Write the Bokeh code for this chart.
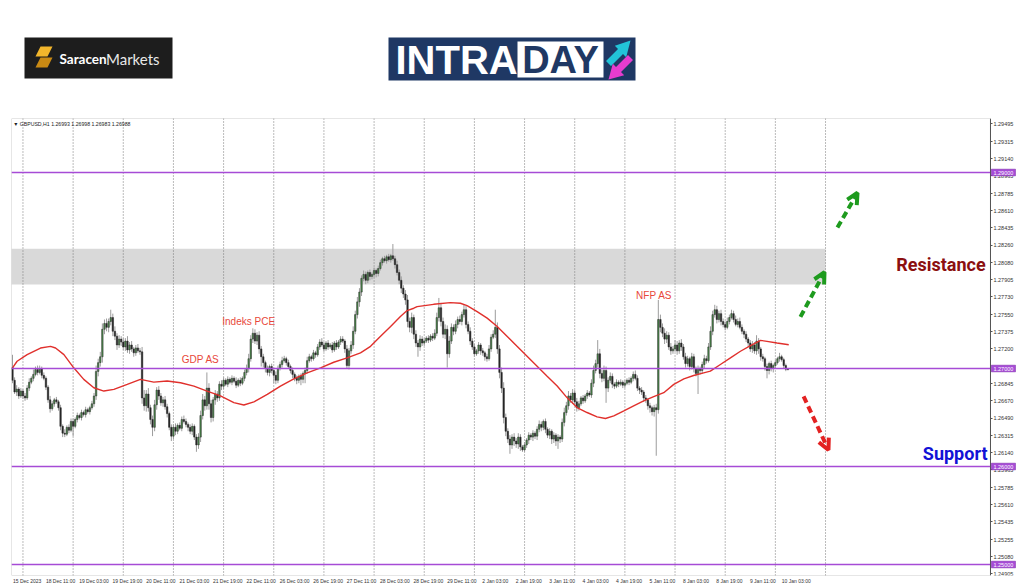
from bokeh.plotting import figure
from bokeh.models import Range1d, FixedTicker, Span, BoxAnnotation, Arrow, OpenHead, ColumnDataSource, PrintfTickFormatter
from bokeh.layouts import column
from bokeh.embed import file_html
from bokeh.resources import INLINE
from bokeh.core.properties import value

# ---------------- data ----------------
first_open = 1.2701
closes = [
    1.2688, 1.2676, 1.2679, 1.2672, 1.2677,
    1.2672, 1.2670, 1.2680, 1.2686, 1.2690, 1.2694, 1.2699, 1.2696, 1.2700, 1.2693, 1.2690, 1.2681, 1.2668, 1.2659, 1.2664, 1.2668, 1.2666, 1.2660, 1.2641, 1.2634, 1.2633, 1.2640, 1.2637, 1.2646,
    1.2641, 1.2648, 1.2652, 1.2650, 1.2655, 1.2653, 1.2658, 1.2656, 1.2660, 1.2664, 1.2672, 1.2697, 1.2706, 1.2712, 1.2740, 1.2746, 1.2742, 1.2748, 1.2752, 1.2738, 1.2733, 1.2724, 1.2730, 1.2727,
    1.2722, 1.2728, 1.2719, 1.2724, 1.2720, 1.2716, 1.2721, 1.2718, 1.2717, 1.2670, 1.2662, 1.2674, 1.2660, 1.2648, 1.2640, 1.2663, 1.2678, 1.2672, 1.2665, 1.2668, 1.2661, 1.2654, 1.2640, 1.2631,
    1.2640, 1.2636, 1.2642, 1.2639, 1.2648, 1.2646, 1.2643, 1.2640, 1.2636, 1.2641, 1.2630, 1.2622, 1.2630, 1.2652, 1.2668, 1.2662, 1.2680, 1.2664, 1.2650, 1.2668, 1.2674, 1.2670, 1.2684, 1.2682,
    1.2688, 1.2684, 1.2689, 1.2686, 1.2690, 1.2687, 1.2683, 1.2688, 1.2685, 1.2690, 1.2696, 1.2700, 1.2710, 1.2730, 1.2736, 1.2728, 1.2734, 1.2720, 1.2712, 1.2706, 1.2700, 1.2696, 1.2702, 1.2698,
    1.2693, 1.2688, 1.2700, 1.2704, 1.2708, 1.2710, 1.2706, 1.2702, 1.2698, 1.2694, 1.2690, 1.2688, 1.2692, 1.2689, 1.2695, 1.2698, 1.2708, 1.2712, 1.2710, 1.2716, 1.2714, 1.2722, 1.2727, 1.2724,
    1.2720, 1.2726, 1.2722, 1.2724, 1.2719, 1.2726, 1.2722, 1.2727, 1.2730, 1.2728, 1.2720, 1.2703, 1.2718, 1.2724, 1.2738, 1.2755, 1.2768, 1.2778, 1.2792, 1.2796, 1.2790, 1.2798, 1.2794, 1.2796,
    1.2800, 1.2797, 1.2802, 1.2808, 1.2812, 1.2810, 1.2814, 1.2811, 1.2815, 1.2812, 1.2806, 1.2798, 1.2790, 1.2782, 1.2776, 1.2770, 1.2748, 1.2742, 1.2752, 1.2735, 1.2726, 1.2722, 1.2730, 1.2726,
    1.2728, 1.2731, 1.2729, 1.2733, 1.2731, 1.2736, 1.2752, 1.2762, 1.2748, 1.2735, 1.2740, 1.2715, 1.2728, 1.2742, 1.2738, 1.2745, 1.2750, 1.2748, 1.2755, 1.2760, 1.2745, 1.2738, 1.2728, 1.2722,
    1.2715, 1.2718, 1.2724, 1.2718, 1.2716, 1.2712, 1.2710, 1.2720, 1.2732, 1.2735, 1.2742, 1.2720, 1.2696, 1.2680, 1.2650, 1.2636, 1.2628, 1.2622, 1.2630, 1.2626, 1.2623, 1.2630, 1.2620, 1.2617,
    1.2622, 1.2627, 1.2632, 1.2630, 1.2634, 1.2631, 1.2638, 1.2643, 1.2640, 1.2646, 1.2638, 1.2632, 1.2636, 1.2628, 1.2632, 1.2626, 1.2630, 1.2628, 1.2645, 1.2655, 1.2662, 1.2672, 1.2668, 1.2675,
    1.2666, 1.2660, 1.2664, 1.2670, 1.2667, 1.2672, 1.2675, 1.2673, 1.2685, 1.2698, 1.2705, 1.2715, 1.2695, 1.2690, 1.2698, 1.2680, 1.2688, 1.2692, 1.2684, 1.2682, 1.2686, 1.2684, 1.2686, 1.2683,
    1.2685, 1.2688, 1.2686, 1.2690, 1.2694, 1.2690, 1.2680, 1.2678, 1.2676, 1.2670, 1.2668, 1.2662, 1.2660, 1.2656, 1.2660, 1.2658, 1.2750, 1.2742, 1.2736, 1.2730, 1.2734, 1.2722, 1.2718, 1.2720,
    1.2724, 1.2718, 1.2726, 1.2722, 1.2712, 1.2705, 1.2710, 1.2702, 1.2712, 1.2700, 1.2695, 1.2700, 1.2698, 1.2704, 1.2710, 1.2708, 1.2722, 1.2738, 1.2755, 1.2760, 1.2750, 1.2756, 1.2748, 1.2745,
    1.2742, 1.2748, 1.2752, 1.2756, 1.2750, 1.2745, 1.2748, 1.2742, 1.2738, 1.2735, 1.2730, 1.2726, 1.2720, 1.2724, 1.2718, 1.2728, 1.2720, 1.2712, 1.2710, 1.2702, 1.2698, 1.2705, 1.2700, 1.2703,
    1.2706, 1.2710, 1.2712, 1.2709, 1.2703, 1.26993, 1.26988,
]
# upper / lower wick lengths in pips (0.0001)
up_wick = [
    13, 3, 4, 2, 3,
    2, 3, 3, 4, 2, 5, 3, 4, 3, 2, 3, 2, 2, 4, 3, 2, 3, 2, 3, 2, 4, 2, 3, 3,
    3, 2, 3, 2, 3, 2, 3, 2, 2, 3, 3, 6, 4, 5, 6, 4, 5, 3, 8, 4, 5, 3, 4, 3,
    4, 3, 5, 3, 4, 2, 3, 4, 3, 5, 8, 4, 6, 3, 4, 5, 3, 4, 3, 3, 4, 3, 2, 3,
    3, 4, 2, 3, 3, 4, 3, 2, 3, 3, 2, 3, 4, 5, 6, 4, 16, 5, 4, 3, 4, 3, 3, 4,
    3, 2, 3, 2, 3, 2, 4, 2, 3, 2, 3, 4, 5, 4, 5, 4, 3, 4, 3, 3, 2, 3, 2, 3,
    3, 4, 3, 3, 4, 3, 2, 3, 2, 3, 2, 3, 2, 3, 2, 3, 4, 3, 2, 3, 2, 3, 3, 4,
    3, 2, 3, 2, 3, 2, 3, 2, 3, 3, 2, 4, 3, 4, 5, 4, 5, 4, 3, 4, 3, 2, 3, 2,
    3, 2, 3, 3, 2, 3, 2, 3, 2, 12, 3, 4, 3, 4, 3, 4, 5, 4, 5, 3, 4, 3, 4, 3,
    3, 2, 3, 2, 3, 4, 5, 10, 5, 4, 5, 4, 5, 4, 3, 4, 3, 4, 3, 5, 4, 3, 4, 3,
    3, 2, 3, 2, 3, 2, 3, 4, 3, 4, 18, 5, 4, 5, 6, 4, 3, 4, 3, 4, 3, 4, 3, 2,
    3, 2, 3, 2, 3, 2, 3, 4, 3, 2, 3, 2, 3, 2, 3, 2, 3, 2, 4, 5, 4, 5, 3, 4,
    3, 4, 3, 2, 3, 2, 3, 2, 4, 5, 4, 14, 5, 4, 5, 4, 3, 4, 3, 2, 3, 2, 3, 2,
    3, 2, 3, 2, 3, 4, 3, 2, 3, 2, 3, 2, 3, 2, 3, 4, 20, 5, 4, 5, 4, 3, 4, 3,
    5, 4, 3, 4, 3, 4, 3, 2, 4, 3, 2, 3, 2, 3, 4, 3, 4, 5, 4, 5, 4, 3, 4, 3,
    3, 4, 3, 4, 3, 4, 3, 4, 3, 2, 3, 2, 3, 4, 3, 6, 3, 2, 3, 2, 3, 2, 3, 2,
    3, 2, 4, 2, 2, 2, 0.5,
]
dn_wick = [
    3, 2, 4, 3, 2,
    3, 3, 2, 3, 2, 3, 2, 3, 2, 3, 2, 3, 3, 4, 2, 3, 2, 3, 4, 4, 3, 2, 3, 2,
    10, 2, 3, 2, 3, 2, 3, 2, 3, 2, 3, 4, 5, 4, 6, 5, 4, 5, 4, 5, 4, 5, 3, 4,
    3, 4, 3, 4, 3, 4, 3, 2, 3, 6, 5, 6, 4, 5, 9, 4, 5, 4, 3, 4, 3, 4, 3, 5,
    3, 4, 3, 2, 3, 2, 3, 4, 3, 4, 3, 7, 4, 5, 4, 5, 4, 6, 5, 4, 5, 4, 3, 4,
    3, 2, 3, 2, 3, 2, 3, 2, 3, 2, 3, 3, 4, 3, 4, 3, 4, 5, 10, 5, 4, 3, 4, 3,
    8, 4, 3, 2, 3, 2, 3, 2, 3, 4, 3, 4, 3, 6, 4, 10, 3, 2, 3, 2, 3, 2, 3, 2,
    3, 2, 3, 2, 3, 2, 3, 2, 3, 2, 4, 3, 4, 3, 4, 3, 4, 5, 4, 3, 4, 3, 4, 3,
    3, 4, 3, 2, 3, 2, 3, 2, 3, 2, 4, 3, 4, 5, 4, 5, 6, 5, 6, 5, 4, 10, 4, 3,
    3, 2, 3, 2, 3, 2, 3, 4, 5, 4, 5, 14, 4, 3, 4, 3, 4, 3, 4, 3, 4, 3, 4, 3,
    3, 2, 3, 4, 3, 4, 3, 2, 3, 2, 4, 5, 6, 5, 6, 5, 4, 9, 4, 5, 4, 5, 4, 2,
    2, 3, 4, 3, 4, 3, 4, 3, 4, 3, 4, 3, 4, 5, 4, 5, 8, 4, 3, 4, 3, 4, 3, 4,
    3, 4, 3, 2, 3, 2, 3, 2, 3, 4, 3, 4, 5, 4, 3, 15, 4, 3, 4, 3, 2, 3, 2, 3,
    3, 2, 3, 2, 3, 2, 3, 4, 3, 4, 3, 4, 5, 4, 5, 47, 4, 5, 4, 5, 4, 3, 4, 3,
    3, 4, 3, 4, 3, 4, 3, 4, 3, 4, 3, 21, 4, 3, 4, 3, 2, 3, 4, 3, 4, 3, 4, 3,
    3, 2, 3, 2, 3, 2, 3, 2, 3, 4, 3, 4, 3, 4, 3, 4, 5, 4, 3, 4, 8, 4, 3, 4,
    3, 2, 3, 2, 3, 2, 0.5,
]

# moving average (red line), read at sample bars
ma_bar = [0, 2.2, 7.0, 13.4, 18.2, 20.6, 24.6, 29.3, 34.1, 38.9, 43.7, 48.5, 54.9, 61.2, 67.6, 74.0, 80.4, 86.8,
          93.1, 99.5, 105.9, 110.7, 115.5, 121.9, 128.2, 134.6, 141.0, 147.4, 153.7, 160.1, 166.5, 171.3, 176.1,
          180.9, 185.6, 188.8, 192.0, 193.6, 201.5, 209.5, 214.3, 217.5, 222.3, 227.1, 231.9, 236.6, 241.4, 246.2,
          251.0, 255.8, 260.6, 265.3, 270.1, 274.9, 279.7, 283.7, 287.7, 292.5, 297.2, 302.0, 306.8, 311.6, 316.4,
          321.2, 325.9, 330.7, 333.9, 338.7, 343.5, 348.3, 353.1, 357.9, 361.0, 365.8, 371.4]
ma_price = [1.27007, 1.27074, 1.27142, 1.27209, 1.27226, 1.27209, 1.27142, 1.27007, 1.26889, 1.26804, 1.26770,
            1.26787, 1.26838, 1.26889, 1.26861, 1.26872, 1.26855, 1.26821, 1.26770, 1.26720, 1.26652, 1.26628,
            1.26659, 1.26736, 1.26821, 1.26895, 1.26956, 1.27007, 1.27064, 1.27108, 1.27159, 1.27226, 1.27328,
            1.27429, 1.27530, 1.27591, 1.27615, 1.27632, 1.27655, 1.27672, 1.27666, 1.27642, 1.27581, 1.27514,
            1.27429, 1.27328, 1.27226, 1.27125, 1.27024, 1.26922, 1.26821, 1.26703, 1.26601, 1.26551, 1.26507,
            1.26490, 1.26517, 1.26568, 1.26618, 1.26669, 1.26713, 1.26753, 1.26838, 1.26895, 1.26929, 1.26956,
            1.26973, 1.27041, 1.27108, 1.27176, 1.27233, 1.27287, 1.27277, 1.27260, 1.27243]

x_tick_bars = [0, 16, 32, 48, 64, 80, 96, 112, 128, 144, 160, 176, 192, 208, 224, 240, 256, 272, 288, 304, 320, 336, 352, 368]
x_tick_labels = ["15 Dec 2023", "18 Dec 11:00", "19 Dec 03:00", "19 Dec 19:00", "20 Dec 11:00", "21 Dec 03:00",
                 "21 Dec 19:00", "22 Dec 11:00", "26 Dec 03:00", "26 Dec 19:00", "27 Dec 11:00", "28 Dec 03:00",
                 "28 Dec 19:00", "29 Dec 11:00", "2 Jan 03:00", "2 Jan 19:00", "3 Jan 11:00", "4 Jan 03:00",
                 "4 Jan 19:00", "5 Jan 11:00", "8 Jan 03:00", "8 Jan 19:00", "9 Jan 11:00", "10 Jan 03:00"]
day_separators = [5, 29, 53, 77, 101, 125, 149, 173, 197, 221, 245, 269, 293, 317, 341, 365, 389]
y_ticks = [1.29495, 1.29315, 1.29140, 1.28965, 1.28785, 1.28610, 1.28435, 1.28260, 1.28080, 1.27905, 1.27730,
           1.27550, 1.27375, 1.27200, 1.26845, 1.26670, 1.26490, 1.26315, 1.26140, 1.25965, 1.25785, 1.25610,
           1.25435, 1.25255, 1.25080, 1.24905]
levels = [1.29, 1.27, 1.26, 1.25]
level_labels = ["1.29000", "1.27000", "1.26000", "1.25000"]
zone_bottom, zone_top, zone_end_bar = 1.27858, 1.28223, 389

event_names = ["GDP AS", "Indeks PCE", "NFP AS"]
event_bar = [90, 113, 307]
event_price = [1.2709, 1.2748, 1.2775]

sr_names = ["Resistance", "Support"]
sr_price = [1.2806, 1.2613]
sr_colors = ["#8b0f0f", "#1212d6"]

arrow_x0 = [377.0, 394.7, 378.5]
arrow_y0 = [1.27527, 1.28439, 1.26716]
arrow_x1 = [388.5, 404.3, 390.4]
arrow_y1 = [1.27983, 1.28793, 1.26169]
arrow_colors = ["#1e9b1e", "#1e9b1e", "#e32222"]

symbol_info = "\u25bc GBPUSD,H1  1.26993 1.26998 1.26983 1.26988"

# ---------------- view settings ----------------
X0, X1 = -0.48, 484.2          # visible bar range (frame spans the full width)
AXIS_BAR = 467.9               # where the price scale sits
Y0, Y1 = 1.24888, 1.29551
LABEL_SHIFT = 7                # MT4 time labels start at their bar
BOX_W, BOX_H = 11.6, 0.00034   # price-box size at the level lines
PURPLE = "#a64bd6"

# ---------------- candles ----------------
n = len(closes)
opens = [first_open] + closes[:-1]
bars = list(range(n))
tops = [max(o, c) for o, c in zip(opens, closes)]
bots = [min(o, c) for o, c in zip(opens, closes)]
highs = [t + u * 0.0001 for t, u in zip(tops, up_wick)]
lows = [b - d * 0.0001 for b, d in zip(bots, dn_wick)]
fills = ["#4b8b4b" if c >= o else "#262626" for o, c in zip(opens, closes)]
src = ColumnDataSource(dict(x=bars, top=tops, bottom=bots, high=highs, low=lows, fill=fills))

# ---------------- header (logos) ----------------
hdr = figure(width=1024, height=108, x_range=Range1d(11, 1024), y_range=Range1d(108, 0),
             output_backend="svg", toolbar_location=None, x_axis_type=None, y_axis_type=None,
             min_border=0, min_border_left=11, min_border_right=0)
hdr.grid.visible = False
hdr.outline_line_color = None
hdr.quad(left=[24], right=[172], top=[37], bottom=[78], fill_color="#1d1d1d", line_color=None)
hdr.patch([40, 52, 47, 35], [46, 46, 56, 56], fill_color="#f2b62c", line_color=None)
hdr.patch([40, 52, 47, 35], [57, 57, 67, 67], fill_color="#c98a14", line_color=None)
hdr.text(x=[59], y=[58.5], text=["Saracen"], text_color="white", text_font=value("Lato"),
         text_font_style="bold", text_font_size="13.5px", text_baseline="middle")
hdr.text(x=[105.5], y=[58.5], text=["Markets"], text_color="#e8e8e8", text_font=value("Lato"),
         text_font_size="15px", text_baseline="middle")
hdr.quad(left=[388], right=[635], top=[37], bottom=[80], fill_color="#1f3864", line_color=None)
hdr.quad(left=[517], right=[603], top=[41], bottom=[77], fill_color="white", line_color=None)
hdr.text(x=[395], y=[59], text=["INTRA"], text_color="white", text_font=value("Liberation Sans"),
         text_font_style="bold", text_font_size="40px", text_baseline="middle")
hdr.text(x=[560], y=[59], text=["DAY"], text_color="#1f3864", text_font=value("Liberation Sans"),
         text_font_style="bold", text_font_size="38px", text_baseline="middle", text_align="center")
hdr.patch([605.5, 610.5, 622.5, 625.7, 630, 614.3, 617.5], [60.5, 65.5, 53.5, 56.7, 40, 45.3, 48.5],
          fill_color="#22c4d8", line_color=None)
hdr.patch([632.5, 620.5, 623.7, 608, 612.3, 615.5, 627.5], [59.5, 71.5, 74.7, 79, 63.3, 66.5, 54.5],
          fill_color="#e63ccf", line_color=None)

# ---------------- main chart ----------------
p = figure(width=1024, height=479, x_range=Range1d(X0, X1), y_range=Range1d(Y0, Y1),
           y_axis_location="right", output_backend="svg", toolbar_location=None,
           min_border_left=11, min_border_right=0, min_border_top=10, min_border_bottom=12)
p.grid.visible = False
p.outline_line_color = None
p.background_fill_color = "white"

p.add_layout(BoxAnnotation(right=zone_end_bar, bottom=zone_bottom, top=zone_top, fill_color="#d9d9d9",
                           fill_alpha=1.0, line_color=None, level="underlay"))
for b in day_separators:
    p.add_layout(Span(location=b, dimension="height", line_color="#777777", line_dash="1 2",
                      line_width=1, level="underlay"))
# chart border (left / top / bottom; the price scale line is the right border)
p.add_layout(BoxAnnotation(left=X0, right=AXIS_BAR, bottom=Y0, top=Y1, fill_alpha=0,
                           line_color="#555555", line_width=1))

p.segment(x0="x", y0="high", x1="x", y1="low", source=src, line_color="#9c9c9c", line_width=1)
p.vbar(x="x", width=0.7, top="top", bottom="bottom", source=src, fill_color="fill",
       line_color="#2a2a2a", line_width=0.5)
p.line(ma_bar, ma_price, line_color="#e0302c", line_width=1.4)

p.segment(x0=[X0] * len(levels), y0=levels, x1=[AXIS_BAR] * len(levels), y1=levels,
          line_color=PURPLE, line_width=1.6)

p.text(x=event_bar, y=event_price, text=event_names, text_color="#e8473a",
       text_font=value("Liberation Sans"), text_font_size="10px", text_align="center",
       text_baseline="middle")
p.text(x=[465.6, 466.5], y=sr_price, text=sr_names, text_color=sr_colors,
       text_font=value("Roboto"), text_font_style="bold", text_font_size="18px",
       text_align="right", text_baseline="middle")

for x0, y0, x1, y1, col in zip(arrow_x0, arrow_y0, arrow_x1, arrow_y1, arrow_colors):
    p.add_layout(Arrow(x_start=x0, y_start=y0, x_end=x1, y_end=y1, line_color=col, line_width=4,
                       line_dash="7 4", end=OpenHead(size=11, line_color=col, line_width=4)))

p.text(x=[0.3], y=[1.29492], text=[symbol_info], text_color="#222222", text_font=value("Liberation Sans"),
       text_font_size="5.2px", text_baseline="middle")

# axes
p.xaxis.ticker = FixedTicker(ticks=[b + LABEL_SHIFT for b in x_tick_bars])
p.xaxis.major_label_overrides = {b + LABEL_SHIFT: lab for b, lab in zip(x_tick_bars, x_tick_labels)}
p.xaxis.major_label_text_font_size = "5px"
p.xaxis.major_label_text_font = "Liberation Sans"
p.xaxis.major_label_text_color = "#333333"
p.xaxis.major_label_standoff = 2
p.xaxis.major_tick_out = 0
p.xaxis.major_tick_in = 0
p.xaxis.major_tick_line_color = None
p.xaxis.minor_tick_line_color = None
p.xaxis.axis_line_color = None

p.yaxis.fixed_location = AXIS_BAR
p.yaxis.ticker = FixedTicker(ticks=y_ticks)
p.yaxis.formatter = PrintfTickFormatter(format="%.5f")
p.yaxis.major_label_text_font_size = "5.5px"
p.yaxis.major_label_text_font = "Liberation Sans"
p.yaxis.major_label_text_color = "#333333"
p.yaxis.major_label_standoff = 1
p.yaxis.major_tick_out = 2
p.yaxis.major_tick_in = 0
p.yaxis.minor_tick_line_color = None
p.yaxis.axis_line_color = "#555555"
p.yaxis.major_tick_line_color = "#555555"

# highlighted price boxes at the level lines
boxes = p.quad(left=[AXIS_BAR + 0.4] * len(levels), right=[AXIS_BAR + 0.4 + BOX_W] * len(levels),
               bottom=[lv - BOX_H for lv in levels], top=[lv + BOX_H for lv in levels],
               fill_color=PURPLE, line_color="#7a2aa8", line_width=0.5)
boxes.level = "overlay"
box_txt = p.text(x=[AXIS_BAR + 0.4 + BOX_W / 2] * len(levels), y=levels, text=level_labels,
                 text_color="white", text_font=value("Liberation Sans"), text_font_size="5.5px",
                 text_align="center", text_baseline="middle")
box_txt.level = "overlay"

layout = column(hdr, p)
open("out.html", "w").write(file_html(layout, INLINE))
